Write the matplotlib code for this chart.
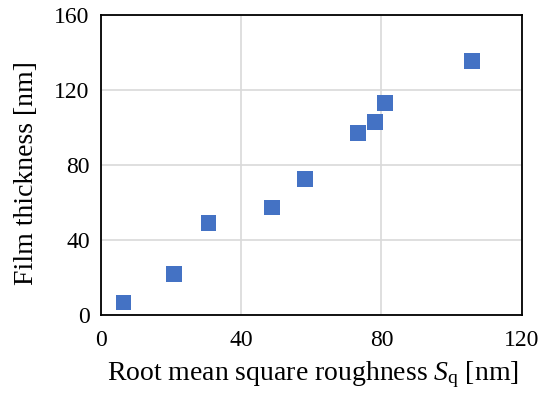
import matplotlib
matplotlib.use('Agg')
import matplotlib.pyplot as plt

# Data
roughness = [6.5, 20.9, 30.7, 48.9, 58.2, 73.4, 78.2, 81.0, 105.8]
thickness = [6.6, 21.9, 49.2, 57.4, 72.4, 96.9, 102.9, 113.2, 135.3]
x_ticks = [0, 40, 80, 120]
y_ticks = [0, 40, 80, 120, 160]

plt.rcParams['font.family'] = ['Liberation Serif', 'DejaVu Serif']
plt.rcParams['mathtext.fontset'] = 'custom'
plt.rcParams['mathtext.rm'] = 'Liberation Serif'
plt.rcParams['mathtext.it'] = 'Liberation Serif:italic'

fig = plt.figure(figsize=(5.39, 4.0), dpi=100)
ax = fig.add_axes([0.187, 0.2125, 0.781, 0.75])

ax.scatter(roughness, thickness, marker='s', s=11.3**2, color='#4472C4',
           edgecolors='none', zorder=3)

ax.set_xlim(0, 120)
ax.set_ylim(0, 160)
ax.set_xticks(x_ticks)
ax.set_yticks(y_ticks)
ax.grid(True, color='#D9D9D9', linewidth=1.2)
ax.set_axisbelow(True)
ax.tick_params(length=0, labelsize=17, colors='#000000')
ax.tick_params(axis='y', pad=8)
ax.tick_params(axis='x', pad=11)

for sp in ax.spines.values():
    sp.set_linewidth(1.3)
    sp.set_color('black')

ax.set_xlabel(r'Root mean square roughness $\mathit{S}_\mathrm{q}$ [nm]', fontsize=20)
ax.set_ylabel('Film thickness [nm]', fontsize=20)
ax.xaxis.set_label_coords(0.503, -0.147)
ax.yaxis.set_label_coords(-0.147, 0.473)

fig.savefig('out.png', dpi=100)
